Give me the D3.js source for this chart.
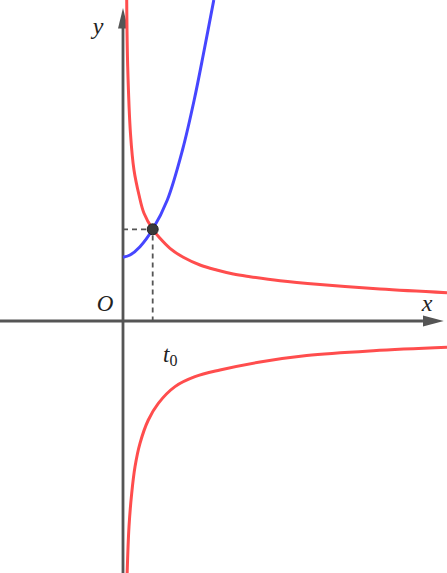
<!DOCTYPE html>
<html>
<head>
    <meta charset="UTF-8" />
    <title>Hyperbola and parabola</title>
    <script src="https://d3js.org/d3.v7.min.js"></script>
    <style>
    body { margin: 0; background: #fff; }
    text { font-family: "Liberation Serif", "DejaVu Serif", serif; font-style: italic; fill: #222; }
    </style>
</head>
<body>
<div id="main"></div>
<script type="text/javascript">

// in units where t0 = 1
const redUpperX = [0.125, 0.158, 0.253, 0.370, 0.539, 0.707, 1.0, 1.246, 1.582, 2.03, 2.593, 3.155, 3.714, 4.276, 5.286, 6.633, 8.653, 10.909]
const redUpperY = [10.808, 8.576, 6.296, 5.084, 4.242, 3.626, 3.088, 2.785, 2.448, 2.145, 1.886, 1.717, 1.582, 1.492, 1.357, 1.229, 1.077, 0.953]

const redLowerX = [0.14, 0.202, 0.293, 0.404, 0.572, 0.852, 1.189, 1.751, 2.424, 3.266, 4.613, 6.185, 8.428, 10.909]
const redLowerY = [-8.49, -6.926, -5.801, -4.906, -4.118, -3.333, -2.771, -2.209, -1.875, -1.650, -1.380, -1.162, -1.0, -0.886]

const blueX = [0, 0.236, 0.572, 1.0, 1.492, 2.003, 2.397, 2.734, 3.057]
const blueY = [2.145, 2.222, 2.502, 3.088, 4.074, 5.758, 7.441, 9.125, 10.808]

const t0 = 1
const tY = 3.088

const width = 447
const height = 573
const unit = 29.7

const x = d3.scaleLinear()
  .domain([-123 / unit, (width - 123) / unit])
  .range([0, width])

const y = d3.scaleLinear()
  .domain([-(height - 321) / unit, 321 / unit])
  .range([height, 0])

const svg = d3.select("#main").append("svg")
  .attr("width", width)
  .attr("height", height)

const axisColor = "#555"

// axes
svg.append("line")
  .attr("x1", 0).attr("y1", y(0))
  .attr("x2", x(10.1)).attr("y2", y(0))
  .attr("stroke", axisColor).attr("stroke-width", 2.8)
svg.append("path")
  .attr("d", `M${x(10.8)},${y(0)} L${x(10.1)},${y(0) - 5.5} L${x(10.1)},${y(0) + 5.5} Z`)
  .attr("fill", axisColor)

svg.append("line")
  .attr("x1", x(0)).attr("y1", height)
  .attr("x2", x(0)).attr("y2", y(9.9))
  .attr("stroke", axisColor).attr("stroke-width", 2.8)
svg.append("path")
  .attr("d", `M${x(0)},${y(10.54)} L${x(0) - 5},${y(9.85)} L${x(0) + 5},${y(9.85)} Z`)
  .attr("fill", axisColor)

// dashed guides
svg.append("path")
  .attr("d", `M${x(0)},${y(tY)} H${x(t0)} V${y(0)}`)
  .attr("fill", "none")
  .attr("stroke", "#555")
  .attr("stroke-width", 1.8)
  .attr("stroke-dasharray", "5,4")

const line = d3.line()
  .x(d => x(d[0]))
  .y(d => y(d[1]))
  .curve(d3.curveCatmullRom.alpha(0.5))

const zip = (a, b) => a.map((v, i) => [v, b[i]])

svg.append("path")
  .attr("d", line(zip(redUpperX, redUpperY)))
  .attr("fill", "none").attr("stroke", "#ff4d4d").attr("stroke-width", 3)

svg.append("path")
  .attr("d", line(zip(redLowerX, redLowerY)))
  .attr("fill", "none").attr("stroke", "#ff4d4d").attr("stroke-width", 3)

svg.append("path")
  .attr("d", line(zip(blueX, blueY)))
  .attr("fill", "none").attr("stroke", "#4646ff").attr("stroke-width", 3)

// intersection point
svg.append("circle")
  .attr("cx", x(t0)).attr("cy", y(tY))
  .attr("r", 5.5)
  .attr("fill", "#3a3a3a")
  .attr("stroke", "#222").attr("stroke-width", 1)

// labels
svg.append("text").attr("x", 98).attr("y", 34)
  .attr("text-anchor", "middle").attr("font-size", 24).text("y")
svg.append("text").attr("x", 427).attr("y", 311)
  .attr("text-anchor", "middle").attr("font-size", 24).text("x")
svg.append("text").attr("x", 105).attr("y", 311)
  .attr("text-anchor", "middle").attr("font-size", 23).text("O")

const tl = svg.append("text").attr("x", 163).attr("y", 362).attr("font-size", 23)
tl.append("tspan").text("t")
tl.append("tspan").attr("font-style", "normal").attr("font-size", 16).attr("dy", 4).text("0")

</script>
</body>
</html>
